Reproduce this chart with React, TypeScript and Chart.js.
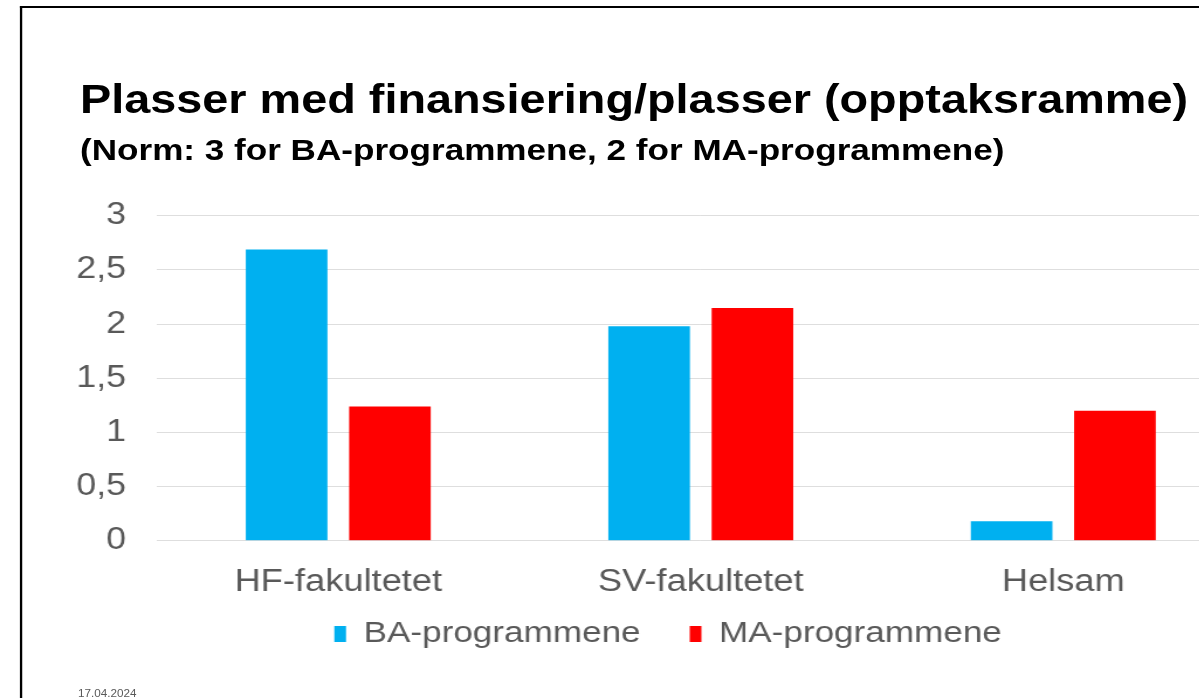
import React, { useEffect, useRef } from "react";
import { Chart, registerables } from "chart.js";

Chart.register(...registerables);

const categories = ["HF-fakultetet", "SV-fakultetet", "Helsam"];
const seriesNames = ["BA-programmene", "MA-programmene"];
const baValues = [2.69, 1.98, 0.18];
const maValues = [1.24, 2.15, 1.2];
const yMin = 0;
const yMax = 3;
const yStep = 0.5;
const titleText = "Plasser med finansiering/plasser (opptaksramme)";
const subtitleText = "(Norm: 3 for BA-programmene, 2 for MA-programmene)";
const dateText = "17.04.2024";

const FONT = "'Liberation Sans', Arial, sans-serif";
const SX = 1.17; // horizontal stretch of the slide
const CW = 1084;
const CH = 527;

const legendShift = {
  id: "legendShift",
  afterLayout(chart: any) {
    const l = chart.legend;
    if (!l) return;
    l.top -= 39;
    l.bottom -= 39;
    l.left += 19.75;
    l.right += 19.75;
  },
};

export default function App() {
  const ref = useRef<HTMLCanvasElement | null>(null);

  useEffect(() => {
    if (!ref.current) return;
    const chart = new Chart(ref.current, {
      type: "bar",
      data: {
        labels: categories,
        datasets: [
          {
            label: seriesNames[0],
            data: baValues,
            backgroundColor: "#00B0F0",
            borderWidth: 0,
            categoryPercentage: 0.57,
            barPercentage: 0.79,
          },
          {
            label: seriesNames[1],
            data: maValues,
            backgroundColor: "#FF0000",
            borderWidth: 0,
            categoryPercentage: 0.57,
            barPercentage: 0.79,
          },
        ],
      },
      options: {
        responsive: false,
        maintainAspectRatio: false,
        animation: false,
        devicePixelRatio: 1,
        layout: { padding: { left: 38.8, right: 20.3, top: 29, bottom: 0 } },
        plugins: {
          tooltip: { enabled: false },
          title: { display: false },
          legend: {
            display: true,
            position: "bottom",
            labels: {
              boxWidth: 10,
              boxHeight: 16,
              padding: 42,
              color: "#595959",
              font: { family: FONT, size: 30 },
            },
          },
        },
        scales: {
          x: {
            grid: { display: false },
            border: { display: false },
            ticks: {
              color: "#595959",
              font: { family: FONT, size: 31 },
              padding: 15,
              maxRotation: 0,
              autoSkip: false,
            },
          },
          y: {
            min: yMin,
            max: yMax,
            grid: { color: "#DEDEDE", lineWidth: 1, drawTicks: false },
            border: { display: false },
            ticks: {
              stepSize: yStep,
              color: "#595959",
              font: { family: FONT, size: 30.5 },
              padding: 26.5,
              callback: (v: any) => String(v).replace(".", ","),
            },
          },
        },
      },
      plugins: [legendShift],
    });
    return () => chart.destroy();
  }, []);

  return (
    <div
      style={{
        position: "fixed",
        left: 0,
        top: 0,
        width: 1199,
        height: 698,
        overflow: "hidden",
        background: "#ffffff",
      }}
    >
      <div
        style={{
          position: "absolute",
          left: 0,
          top: 0,
          width: 1100,
          height: 698,
          transform: `scaleX(${SX})`,
          transformOrigin: "0 0",
        }}
      >
        <div
          style={{
            position: "absolute",
            left: 17.1,
            top: 6,
            width: 1200,
            height: 800,
            borderLeft: "2px solid #000",
            borderTop: "2px solid #000",
          }}
        />
        <div
          style={{
            position: "absolute",
            left: 68.4,
            top: 79,
            fontFamily: FONT,
            fontWeight: "bold",
            fontSize: 40,
            lineHeight: "40px",
            color: "#000",
            whiteSpace: "nowrap",
          }}
        >
          {titleText}
        </div>
        <div
          style={{
            position: "absolute",
            left: 68.4,
            top: 134.6,
            fontFamily: FONT,
            fontWeight: "bold",
            fontSize: 30,
            lineHeight: "30px",
            color: "#000",
            whiteSpace: "nowrap",
          }}
        >
          {subtitleText}
        </div>
        <div
          style={{
            position: "absolute",
            left: 66.7,
            top: 689,
            fontFamily: FONT,
            fontSize: 10,
            lineHeight: "10px",
            color: "#595959",
            whiteSpace: "nowrap",
          }}
        >
          {dateText}
        </div>
        <canvas
          ref={ref}
          width={CW}
          height={CH}
          style={{
            position: "absolute",
            left: 0,
            top: 171,
            width: CW,
            height: CH,
          }}
        />
      </div>
    </div>
  );
}
